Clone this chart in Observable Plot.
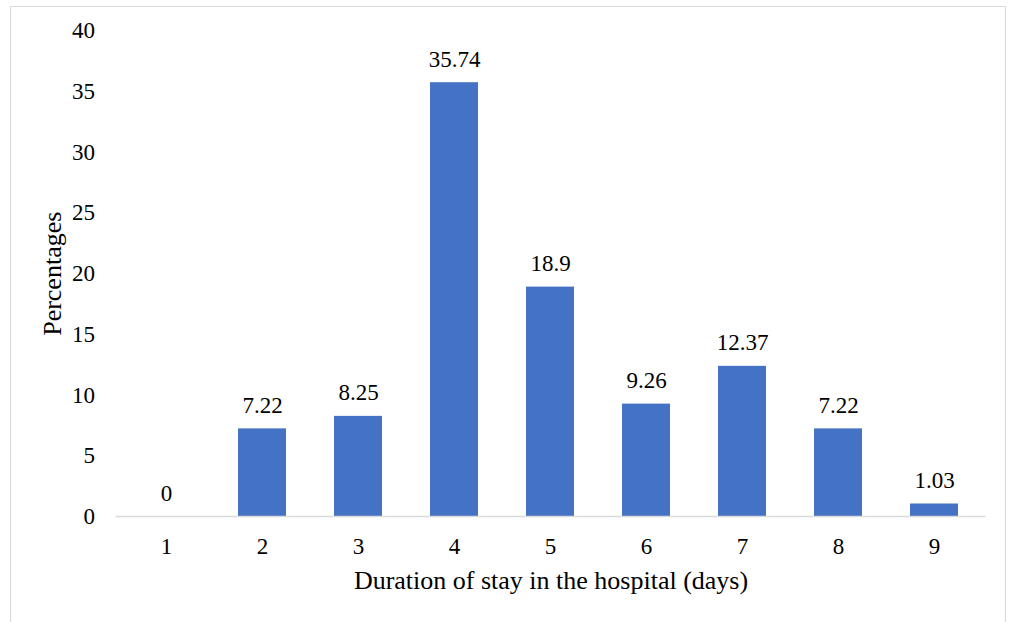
<!DOCTYPE html>
<html>
<head>
<meta charset="utf-8">
<script src="https://cdn.jsdelivr.net/npm/d3@7"></script>
<script src="https://cdn.jsdelivr.net/npm/@observablehq/plot@0.6"></script>
<style>
  html, body { margin: 0; padding: 0; background: #fff; }
  #wrap { position: relative; width: 1011px; height: 622px; }
  #border { position: absolute; left: 10px; top: 6px; width: 996px; height: 620px; border: 1px solid #d9d9d9; box-sizing: border-box; pointer-events: none; }
  svg { display: block; }
  svg text { font-family: 'Liberation Serif', 'Times New Roman', serif !important; font-variant: normal !important; }
</style>
</head>
<body>
<div id="wrap"><div id="border"></div></div>
<script>
const days = ["1", "2", "3", "4", "5", "6", "7", "8", "9"];
const percentages = [0, 7.22, 8.25, 35.74, 18.9, 9.26, 12.37, 7.22, 1.03];
const valueLabels = ["0", "7.22", "8.25", "35.74", "18.9", "9.26", "12.37", "7.22", "1.03"];
const yTicks = [0, 5, 10, 15, 20, 25, 30, 35, 40];
const xTitle = "Duration of stay in the hospital (days)";
const yTitle = "Percentages";

const data = days.map((d, i) => ({day: d, value: percentages[i], label: valueLabels[i]}));
const font = "'Liberation Serif', 'Times New Roman', serif";

const chart = Plot.plot({
  width: 1011,
  height: 622,
  marginLeft: 115.6,
  marginRight: 25.6,
  marginTop: 30.5,
  marginBottom: 106,
  style: {fontFamily: font, color: "#000", background: "transparent"},
  x: {domain: days, paddingInner: 0.5, paddingOuter: 0.25},
  y: {domain: [0, 40]},
  marks: [
    Plot.barY(data, {x: "day", y: "value", fill: "#4472C4"}),
    Plot.ruleY([0], {stroke: "#d9d9d9", strokeWidth: 1.5}),
    Plot.text(data, {x: "day", y: "value", text: "label", lineAnchor: "bottom", dy: -16, fontSize: 23, fontFamily: font, fill: "#000"}),
    Plot.axisY({ticks: yTicks, tickSize: 0, tickPadding: 21, fontSize: 23, fontFamily: font, label: yTitle, labelAnchor: "center", labelOffset: 74, labelArrow: "none"}),
    Plot.axisX({tickSize: 0, tickPadding: 21, fontSize: 23, fontFamily: font, label: xTitle, labelAnchor: "center", labelOffset: 72, labelArrow: "none"})
  ]
});
chart.querySelectorAll("[aria-label='y-axis label'] text, [aria-label='x-axis label'] text").forEach(t => t.setAttribute("font-size", 26));
document.getElementById("wrap").prepend(chart);
</script>
</body>
</html>
